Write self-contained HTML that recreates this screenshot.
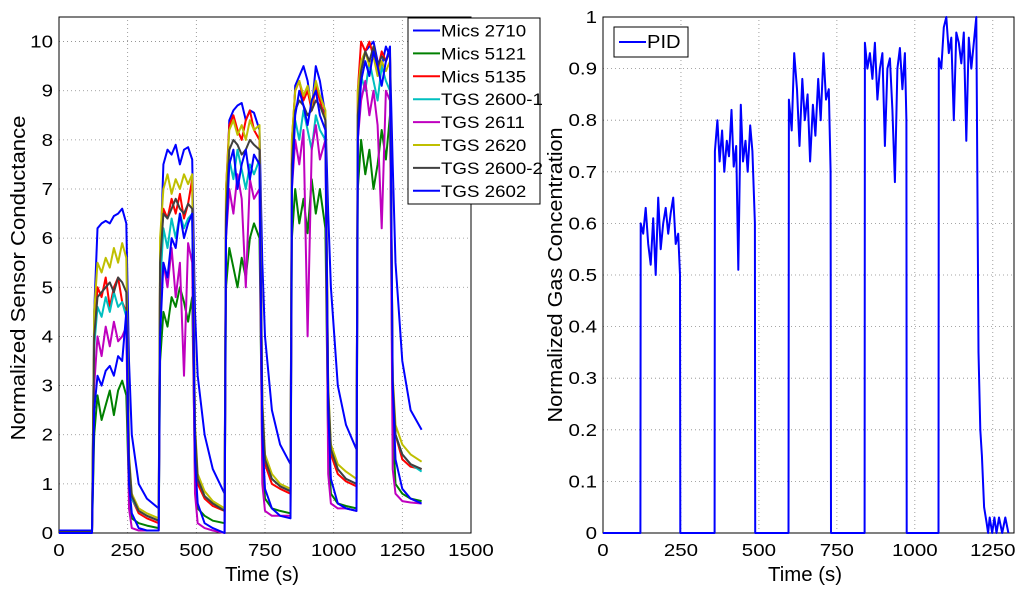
<!DOCTYPE html>
<html><head><meta charset="utf-8"><style>
html,body{margin:0;padding:0;background:#fff;}
svg{display:block;font-family:"Liberation Sans",Arial,sans-serif;}
</style></head><body>
<svg id="chart" width="1024" height="595" viewBox="0 0 1024 595" xmlns="http://www.w3.org/2000/svg"></svg>
<script>
// ---------- Left chart data ----------
const tL = [0,120,
128,140,155,170,185,200,215,230,245,255,265,290,320,363,
368,380,395,410,425,440,455,470,485,495,505,530,560,603,
608,620,635,650,665,680,695,710,730,740,750,775,805,843,
848,860,875,890,905,920,935,950,970,980,990,1015,1045,1083,
1088,1100,1115,1130,1145,1160,1175,1190,1205,1215,1225,1250,1280,1320];
const mics2710 = [0.05,0.05,
4.5,6.2,6.3,6.35,6.3,6.45,6.5,6.6,6.3,3.5,2.0,1.0,0.7,0.5,
5.5,7.5,7.8,7.7,7.9,7.5,7.8,7.85,7.6,4.5,3.2,2.0,1.3,0.8,
6.5,8.4,8.6,8.7,8.75,8.4,8.6,8.55,8.2,5.5,4.0,2.5,1.8,1.4,
7.5,9.1,9.3,9.5,9.2,8.6,9.5,9.2,8.5,6.5,5.0,3.0,2.2,1.7,
8.0,9.4,9.8,9.9,10.0,9.6,9.5,9.9,9.7,7.5,5.5,3.5,2.5,2.1];
const mics5121 = [0.02,0.02,
2.0,2.8,2.3,2.6,2.9,2.4,2.9,3.1,2.8,0.8,0.3,0.2,0.15,0.1,
3.5,4.5,4.2,4.8,4.6,5.0,4.7,4.3,4.8,1.2,0.5,0.35,0.25,0.2,
5.0,5.8,5.4,5.0,5.6,5.2,6.0,6.3,6.0,1.5,0.7,0.5,0.45,0.4,
6.0,7.0,6.3,6.8,6.1,7.2,6.5,7.0,6.2,1.8,0.8,0.6,0.55,0.5,
7.0,8.0,7.3,7.8,7.0,7.5,8.2,7.6,8.5,2.2,1.0,0.8,0.7,0.65];
const mics5135 = [0.02,0.02,
4.0,5.0,4.8,5.2,4.6,5.0,5.2,4.7,4.5,1.5,0.7,0.4,0.3,0.2,
5.5,6.6,6.4,6.8,6.5,6.9,6.4,6.7,7.2,2.0,1.0,0.7,0.55,0.45,
7.0,8.3,8.5,8.2,8.0,8.4,8.6,8.2,8.0,2.5,1.4,1.0,0.9,0.8,
8.0,9.0,9.2,8.8,9.0,8.6,9.1,8.8,8.4,2.8,1.6,1.2,1.05,0.95,
9.0,10.0,9.8,10.0,9.7,9.4,9.8,9.6,9.8,3.0,2.0,1.5,1.35,1.3];
const tgs2600a = [0.02,0.02,
3.8,4.6,4.4,4.8,4.5,4.9,4.6,4.7,4.4,1.4,0.7,0.45,0.35,0.25,
5.0,6.2,5.8,6.4,6.0,6.5,6.2,6.4,6.5,2.0,1.1,0.75,0.6,0.5,
6.5,7.6,7.2,7.8,7.4,7.0,7.5,7.3,7.6,2.5,1.5,1.1,0.95,0.85,
7.5,8.4,8.0,8.6,8.2,7.8,8.5,8.2,8.0,2.8,1.7,1.3,1.1,1.0,
8.5,9.3,9.0,9.6,9.2,8.8,9.5,9.2,9.0,3.0,2.0,1.6,1.4,1.25];
const tgs2611 = [0.0,0.0,
3.0,4.0,3.6,4.2,3.8,4.3,3.9,4.0,4.2,0.5,0.1,0.05,0.05,0.05,
4.5,5.5,5.0,5.8,4.8,5.5,3.2,5.9,5.5,0.8,0.2,0.1,0.05,0.0,
6.0,7.0,6.5,7.3,6.8,5.0,7.2,6.8,7.0,1.0,0.45,0.35,0.35,0.35,
7.0,8.0,7.5,8.2,4.0,7.8,8.3,7.6,8.0,1.2,0.6,0.5,0.5,0.45,
8.0,8.8,9.2,8.5,9.0,8.3,6.2,9.0,8.8,1.3,0.8,0.65,0.62,0.6];
const tgs2620 = [0.02,0.02,
4.5,5.5,5.3,5.6,5.4,5.8,5.5,5.9,5.6,1.6,0.8,0.5,0.4,0.3,
6.0,7.0,7.3,6.9,7.2,7.0,7.3,7.1,7.3,2.2,1.2,0.85,0.65,0.5,
7.0,8.2,8.4,8.1,8.3,8.0,8.4,8.2,8.3,2.7,1.6,1.2,1.0,0.9,
8.0,9.0,9.2,8.9,9.1,8.7,9.2,8.9,8.6,3.0,1.8,1.4,1.25,1.1,
9.0,9.6,9.8,9.5,9.7,9.3,9.6,9.4,9.6,3.2,2.2,1.8,1.6,1.45];
const tgs2600b = [0.02,0.02,
4.0,4.8,4.9,5.0,5.1,4.9,5.2,5.1,4.9,1.5,0.75,0.45,0.35,0.25,
5.5,6.5,6.4,6.6,6.8,6.6,6.5,6.7,6.6,2.1,1.1,0.75,0.6,0.45,
6.5,7.8,8.0,7.9,7.7,7.8,8.0,7.9,7.8,2.6,1.5,1.1,0.95,0.85,
7.5,8.6,8.8,8.7,8.5,8.6,8.8,8.7,8.4,2.9,1.7,1.3,1.1,1.0,
8.5,9.4,9.8,9.6,9.9,9.5,9.7,9.6,9.8,3.1,2.0,1.6,1.4,1.3];
const tgs2602 = [0.0,0.0,
2.5,3.2,3.0,3.3,3.4,3.2,3.6,3.5,4.5,1.0,0.4,0.1,0.05,0.05,
4.0,5.5,5.2,6.0,5.8,6.5,6.0,6.3,6.5,1.5,0.6,0.2,0.1,0.0,
6.0,7.5,7.8,7.0,7.5,7.8,7.2,7.7,7.5,2.0,0.9,0.5,0.35,0.3,
7.0,8.5,9.0,8.7,8.3,8.8,9.0,8.5,8.2,2.5,1.1,0.6,0.5,0.45,
8.0,9.2,9.6,9.3,9.8,9.5,9.1,9.6,9.9,3.0,1.5,0.9,0.7,0.6];
const seriesNames = ["Mics 2710","Mics 5121","Mics 5135","TGS 2600-1","TGS 2611","TGS 2620","TGS 2600-2","TGS 2602"];
const seriesData = [mics2710,mics5121,mics5135,tgs2600a,tgs2611,tgs2620,tgs2600b,tgs2602];
const seriesColors = ["#0000ff","#008000","#ff0000","#00bfbf","#bf00bf","#bfbf00","#404040","#0000ff"];
const xTicksL = [0,250,500,750,1000,1250,1500];
const yTicksL = [0,1,2,3,4,5,6,7,8,9,10];

// ---------- Right chart data ----------
const pidT = [0,120,
121,129,137,145,153,161,169,177,185,193,201,209,217,225,233,241,247,248,
358,359,367,374,382,389,397,404,412,419,427,434,442,449,457,464,472,479,487,488,
595,596,605,613,622,630,639,647,656,664,673,681,690,698,707,715,724,730,731,
839,840,848,856,864,872,880,888,896,904,912,920,928,936,944,952,960,968,973,974,
1076,1077,1085,1093,1101,1109,1117,1125,1133,1141,1149,1157,1165,1173,1181,1189,1197,1204,
1210,1215,1222,1230,1235,1240,1248,1255,1262,1270,1280,1290,1300,1305];
const pidV = [0,0,
0.6,0.58,0.63,0.56,0.52,0.61,0.5,0.65,0.55,0.6,0.63,0.58,0.62,0.65,0.56,0.58,0.5,0,
0,0.74,0.8,0.72,0.78,0.7,0.76,0.73,0.82,0.71,0.75,0.51,0.83,0.72,0.76,0.7,0.79,0.74,0.6,0,
0,0.84,0.78,0.93,0.86,0.75,0.88,0.8,0.85,0.72,0.83,0.77,0.88,0.8,0.93,0.84,0.86,0.7,0,
0,0.95,0.9,0.93,0.88,0.95,0.84,0.9,0.93,0.75,0.9,0.92,0.82,0.68,0.9,0.94,0.86,0.93,0.8,0,
0,0.92,0.9,0.98,1.0,0.93,0.96,0.8,0.97,0.95,0.91,0.97,0.76,0.96,0.9,0.95,1.0,
0.35,0.2,0.15,0.05,0.02,0.0,0.03,0.0,0.03,0.0,0.03,0.0,0.03,0.0];
const xTicksR = [0,250,500,750,1000,1250];
const yTicksR = [0,0.1,0.2,0.3,0.4,0.5,0.6,0.7,0.8,0.9,1];

const NS = "http://www.w3.org/2000/svg";
const svg = document.getElementById('chart');
function mk(tag, attrs, parent){
  const e = document.createElementNS(NS, tag);
  for (const k in attrs) e.setAttribute(k, attrs[k]);
  (parent||svg).appendChild(e);
  return e;
}
function stretch(t, f){
  try{
    const w = t.getComputedTextLength();
    if (w>0){ t.setAttribute('textLength', (w*f).toFixed(1)); t.setAttribute('lengthAdjust','spacingAndGlyphs'); }
  }catch(e){}
}

const L = {x0:59, x1:471, y0:533, y1:17, xmin:0, xmax:1500, ymin:0, ymax:10.5};
const R = {x0:603, x1:1014, y0:533, y1:17, xmin:0, xmax:1318, ymin:0, ymax:1};
function sx(a,v){return a.x0 + (v-a.xmin)/(a.xmax-a.xmin)*(a.x1-a.x0);}
function sy(a,v){return a.y0 - (v-a.ymin)/(a.ymax-a.ymin)*(a.y0-a.y1);}

function drawAxes(a, xt, yt, name, fmt){
  const g = mk('g', {});
  
  
  for (const v of xt){
    const x = sx(a,v);
    if (v>a.xmin && v<a.xmax){
      const l = mk('line',{x1:x,y1:a.y0,x2:x,y2:a.y1,stroke:'#888','stroke-width':0.8,'stroke-dasharray':'1,3'},g);
      
      
    }
    const t = mk('text',{x:x,y:a.y0+23,'font-size':17.5,'text-anchor':'middle',fill:'#000'},g);
    
    
    t.textContent = v;
    stretch(t,1.17);
  }
  for (const v of yt){
    const y = sy(a,v);
    if (v>a.ymin && v<a.ymax){
      const l = mk('line',{x1:a.x0,y1:y,x2:a.x1,y2:y,stroke:'#888','stroke-width':0.8,'stroke-dasharray':'1,3'},g);
      
      
    }
    const t = mk('text',{x:a.x0-6,y:y+6,'font-size':17.5,'text-anchor':'end',fill:'#000'},g);
    
    
    t.textContent = fmt(v);
    stretch(t,1.17);
  }
  const b = mk('rect',{x:a.x0,y:a.y1,width:a.x1-a.x0,height:a.y0-a.y1,fill:'none',stroke:'#000','stroke-width':1},g);
  
  
}
function drawLine(a, xs, ys, color, name){
  let d='';
  for (let i=0;i<xs.length;i++){
    d += (i?'L':'M') + sx(a,xs[i]).toFixed(1) + ',' + sy(a,ys[i]).toFixed(1);
  }
  const p = mk('path',{d:d,fill:'none',stroke:color,'stroke-width':2,'stroke-linejoin':'round'});
  
  
}

drawAxes(L, xTicksL, yTicksL, 'left', v=>String(v));
drawAxes(R, xTicksR, yTicksR, 'right', v=>(v===0||v===1)?String(v):v.toFixed(1));

for (let s=0;s<seriesData.length;s++){
  drawLine(L, tL, seriesData[s], seriesColors[s], 'series-'+seriesNames[s].toLowerCase().replace(/\s+/g,'-'));
}
drawLine(R, pidT, pidV, '#0000ff', 'series-pid');

let t;
t = mk('text',{x:0,y:0,'font-size':20,'text-anchor':'middle',transform:'translate(25,278) rotate(-90)',textLength:325,lengthAdjust:'spacingAndGlyphs'});


t.textContent = 'Normalized Sensor Conductance';
t = mk('text',{x:262,y:581,'font-size':20,'text-anchor':'middle',textLength:74,lengthAdjust:'spacingAndGlyphs'});


t.textContent = 'Time (s)';
t = mk('text',{x:0,y:0,'font-size':20,'text-anchor':'middle',transform:'translate(562,275) rotate(-90)',textLength:295,lengthAdjust:'spacingAndGlyphs'});


t.textContent = 'Normalized Gas Concentration';
t = mk('text',{x:805,y:581,'font-size':20,'text-anchor':'middle',textLength:74,lengthAdjust:'spacingAndGlyphs'});


t.textContent = 'Time (s)';

const lg = mk('g',{});


const lgb = mk('rect',{x:408,y:18,width:132,height:186,fill:'#fff',stroke:'#000','stroke-width':1},lg);


for (let s=0;s<seriesNames.length;s++){
  const y = 30.5 + s*22.9;
  const e = mk('g',{},lg);
  
  
  mk('line',{x1:413,y1:y,x2:440,y2:y,stroke:seriesColors[s],'stroke-width':2},e);
  const tx = mk('text',{x:441,y:y+6,'font-size':17},e);
  tx.textContent = seriesNames[s];
  stretch(tx,1.1);
}
const rg = mk('g',{});


mk('rect',{x:614,y:27,width:74,height:30,fill:'#fff',stroke:'#000','stroke-width':1},rg);
mk('line',{x1:619,y1:42,x2:646,y2:42,stroke:'#0000ff','stroke-width':2},rg);
const pt = mk('text',{x:647,y:48,'font-size':18},rg);
pt.textContent = 'PID';
stretch(pt,1.12);
</script>
</body></html>
